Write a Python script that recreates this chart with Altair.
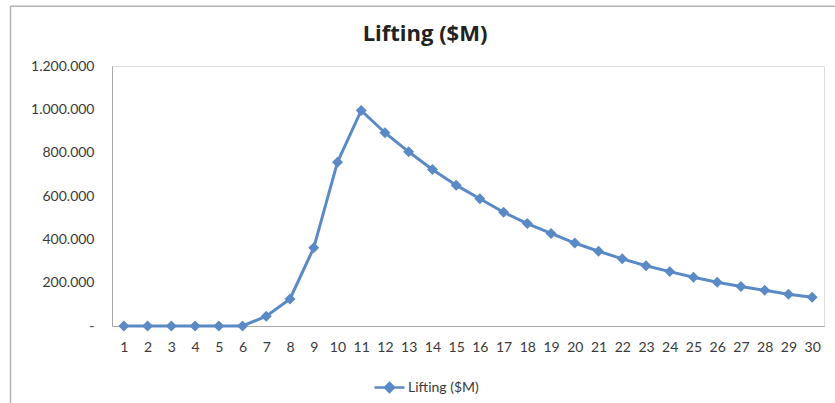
import altair as alt
import pandas as pd

# Yearly lifting cost series
years = list(range(1, 31))
lifting = [0, 0, 0, 0, 0, 0, 45000, 125000, 361000, 756000,
           995000, 892000, 804000, 722000, 650000, 587000, 525000, 473000, 427000, 383000,
           345000, 310000, 278000, 251000, 225000, 202000, 182000, 165000, 147000, 133000]
series_name = "Lifting ($M)"
y_ticks = [0, 200000, 400000, 600000, 800000, 1000000, 1200000]

df = pd.DataFrame({"year": years, "value": lifting, "series": series_name})

LINE = "#5a8ac6"
GRID = "#a8a8a8"
FONT = "Lato"
TEXT = "#3a3a3a"

# legend glyph: a short line with a diamond in the middle
legend_glyph = "M-1,0H1M0,-0.3L0.3,0L0,0.3L-0.3,0Z"

base = alt.Chart(df)

line = base.mark_line(
    strokeWidth=3,
    point=alt.OverlayMarkDef(shape="diamond", size=120, filled=True, color=LINE),
).encode(
    x=alt.X("year:O", title=None,
            axis=alt.Axis(labelAngle=0, ticks=False, labelPadding=14,
                          domainColor=GRID, labelFontSize=14, labelFont=FONT,
                          labelColor=TEXT)),
    y=alt.Y("value:Q", title=None,
            scale=alt.Scale(domain=[0, 1200000], nice=False),
            axis=alt.Axis(values=y_ticks, ticks=False, grid=False, labelPadding=18,
                          domainColor=GRID, labelFontSize=14, labelFont=FONT,
                          labelColor=TEXT,
                          labelExpr="datum.value == 0 ? '-' : replace(format(datum.value, ',.0f'), /,/g, '.')")),
    color=alt.Color("series:N", title=None,
                    scale=alt.Scale(range=[LINE]),
                    legend=alt.Legend(orient="none", legendX=261, legendY=305,
                                      symbolType=legend_glyph, symbolSize=900,
                                      symbolStrokeWidth=2.5, symbolFillColor=LINE,
                                      labelFont=FONT, labelFontSize=14,
                                      labelColor=TEXT, labelOffset=2)),
)

one = alt.Chart(pd.DataFrame({"k": [0]}))

# chart title
title = one.mark_text(text=series_name, font="Open Sans", fontSize=22, fontWeight="bold",
                      color="#222222", align="center", baseline="alphabetic").encode(
    x=alt.value(313), y=alt.value(-25))

# chart-area frame along the top and left edges
frame_left = one.mark_rule(color="#b4b4b4", strokeWidth=1.5).encode(
    x=alt.value(-101.5), y=alt.value(-60), y2=alt.value(337))
frame_top = one.mark_rule(color="#b4b4b4", strokeWidth=1.5).encode(
    x=alt.value(-101.5), x2=alt.value(723), y=alt.value(-59.7))

chart = alt.layer(frame_left, frame_top, title, line).properties(
    width=712,
    height=260,
    autosize=alt.AutoSizeParams(type="none"),
    padding={"left": 112, "top": 66, "right": 11, "bottom": 77},
).configure_view(stroke=None).configure(background="white")

chart.save("out.html", embed_options={"renderer": "svg", "actions": False})
